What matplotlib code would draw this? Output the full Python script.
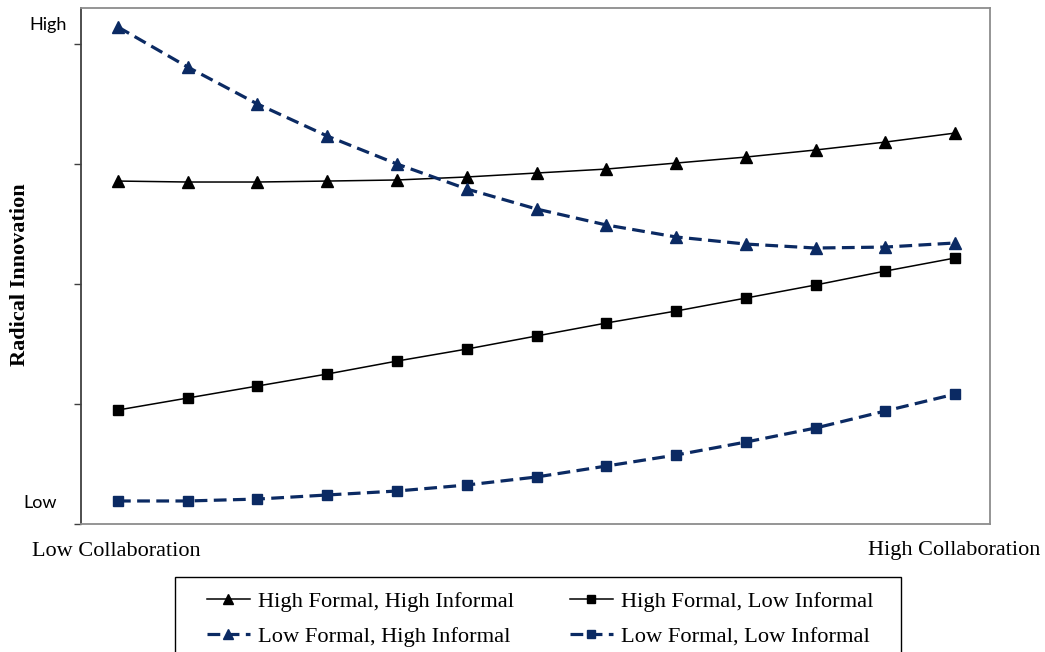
import matplotlib.pyplot as plt
from matplotlib.patches import Rectangle

# collaboration steps from low to high (13 points)
x = list(range(13))

hf_hi = [2.858, 2.85, 2.85, 2.858, 2.867, 2.892, 2.925, 2.958, 3.008, 3.058, 3.117, 3.183, 3.258]
hf_li = [0.95, 1.05, 1.15, 1.25, 1.358, 1.458, 1.567, 1.675, 1.775, 1.883, 1.992, 2.108, 2.217]
lf_hi = [4.142, 3.808, 3.5, 3.233, 3.0, 2.792, 2.625, 2.492, 2.392, 2.333, 2.3, 2.308, 2.342]
lf_li = [0.192, 0.192, 0.208, 0.242, 0.275, 0.325, 0.392, 0.483, 0.575, 0.683, 0.8, 0.942, 1.083]

labels = ["High Formal, High Informal", "High Formal, Low Informal",
          "Low Formal, High Informal", "Low Formal, Low Informal"]

navy = '#0b2a63'
serif = 'Liberation Serif'

fig = plt.figure(figsize=(10.45, 6.52), dpi=100)
ax = fig.add_axes([0.0775, 0.1963, 0.8699, 0.7914])

l1, = ax.plot(x, hf_hi, color='black', lw=1.1, marker='^', ms=8.5, label=labels[0])
l2, = ax.plot(x, hf_li, color='black', lw=1.1, marker='s', ms=7.5, label=labels[1])
l3, = ax.plot(x, lf_hi, color=navy, lw=2.3, dashes=(4, 2), marker='^', ms=8.5, label=labels[2])
l4, = ax.plot(x, lf_li, color=navy, lw=2.3, dashes=(4, 2), marker='s', ms=7.5, label=labels[3])

ax.set_xlim(-0.53, 12.5)
ax.set_ylim(0, 4.3)
ax.set_xticks([])
ax.set_yticks([0, 1, 2, 3, 4])
ax.set_yticklabels([])
ax.tick_params(axis='y', direction='out', length=5, width=1, color='#404040')

for side in ['top', 'right', 'bottom']:
    ax.spines[side].set_color('#8c8c8c')
    ax.spines[side].set_linewidth(1.3)
ax.spines['left'].set_color('#404040')
ax.spines['left'].set_linewidth(1.3)

fig.text(48 / 1045, 1 - 25 / 652, 'High', family='Lato', fontsize=13, ha='center', va='center')
fig.text(40 / 1045, 1 - 503 / 652, 'Low', family='Lato', fontsize=13, ha='center', va='center')
fig.text(20 / 1045, 1 - 275 / 652, 'Radical Innovation', family=serif, fontsize=16,
         fontweight='bold', rotation=90, ha='center', va='center')
fig.text(116 / 1045, 1 - 551 / 652, 'Low Collaboration', family=serif, fontsize=16,
         ha='center', va='center')
fig.text(954 / 1045, 1 - 551 / 652, 'High Collaboration', family=serif, fontsize=16,
         ha='center', va='center')

# legend box
fig.patches.append(Rectangle((175 / 1045, -0.05), (901 - 175) / 1045, 0.05 + 75 / 652,
                             transform=fig.transFigure, fill=False, edgecolor='black', lw=1))
fig.legend([l1, l3, l2, l4], [labels[0], labels[2], labels[1], labels[3]],
           loc='upper left', bbox_to_anchor=(191 / 1045, 1 - 575 / 652), ncol=2,
           frameon=False, prop={'family': serif, 'size': 16.2}, handlelength=1.9,
           handletextpad=0.36, columnspacing=2.5, labelspacing=0.66, borderpad=0.2,
           markerscale=0.85)

fig.savefig('out.png', dpi=100)
